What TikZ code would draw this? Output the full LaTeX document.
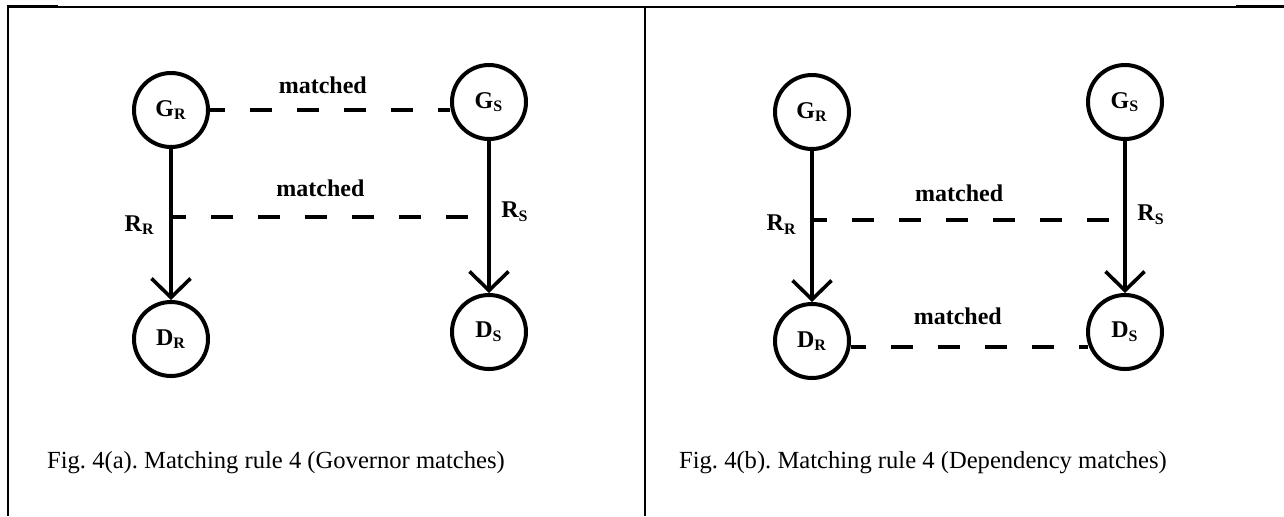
\documentclass[tikz,border=0pt]{standalone}
\usepackage{fontspec}
\setmainfont{Liberation Serif}
\usetikzlibrary{arrows.meta,positioning,calc}
\frenchspacing

\begin{document}
\begin{tikzpicture}[
  x=0.5pt, y=-0.5pt,
  >={Straight Barb[length=9.5pt,width=19.5pt]},
  every node/.style={font=\fontsize{12}{14}\selectfont\bfseries},
  word/.style={draw, circle, line width=2pt, minimum size=37pt, inner sep=0pt},
  rel/.style={->, line width=1.8pt},
  match/.style={line width=2pt, dash pattern=on 11pt off 12.5pt, dash phase=3.5pt},
  tag/.style={inner sep=0pt},
  frame/.style={line width=1pt},
  caption/.style={font=\fontsize{12.3}{15}\selectfont, inner sep=0pt},
]
\useasboundingbox (0,0) rectangle (1284,516);

% table rules
\draw[frame] (8,6.5) -- (1284,6.5);
\draw[line width=1.5pt] (7,6.5) -- (58,6.5);
\draw[line width=1.5pt] (1236,6.5) -- (1284,6.5);
\draw[frame] (8,6) -- (8,516);
\draw[frame] (645,6) -- (645,516);

% (a) governor matches
\node[word] (gra) at (171,110) {G\textsubscript{R}};
\node[word, below=75.5pt of gra] (dra) {D\textsubscript{R}};
\node[word, right=120pt of gra, yshift=4pt] (gsa) {G\textsubscript{S}};
\node[word, below=76pt of gsa] (dsa) {D\textsubscript{S}};

\draw[rel] (gra) -- coordinate[pos=0.45] (rra) (dra);
\draw[rel] (gsa) -- (dsa);
\draw[match] (gra) -- node[tag, above=7pt, pos=0.47] (ma1) {matched} (gra -| gsa.west);
\draw[match] (rra) -- node[tag, above=9pt, pos=0.47] (ma2) {matched} (rra -| gsa);
\node[tag, anchor=north east] (rlra) at ([xshift=-8pt, yshift=1pt]rra) {R\textsubscript{R}};
\node[tag, anchor=west] (rlsa) at ([xshift=6pt, yshift=2.75pt]rra -| gsa) {R\textsubscript{S}};

\node[caption] (capa) at (276,463) {Fig. 4(a). Matching rule 4 (Governor matches)};

% (b) dependency matches
\node[word] (grb) at (812,112) {G\textsubscript{R}};
\node[word, below=75.5pt of grb] (drb) {D\textsubscript{R}};
\node[word, right=117.5pt of grb, yshift=5pt] (gsb) {G\textsubscript{S}};
\node[word, below=76pt of gsb] (dsb) {D\textsubscript{S}};

\draw[rel] (grb) -- coordinate[pos=0.46] (rrb) (drb);
\draw[rel] (gsb) -- (dsb);
\draw[match] (rrb) -- node[tag, above=8.5pt, pos=0.47] (mb1) {matched} (rrb -| gsb);
\draw[match] ([yshift=-3pt]drb.east) -- node[tag, above=10pt, pos=0.45] (mb2) {matched}
  ([yshift=-3pt]drb.east -| dsb.200);
\node[tag, anchor=north east] (rlrb) at ([xshift=-7.5pt, yshift=3pt]rrb) {R\textsubscript{R}};
\node[tag, anchor=west] (rlsb) at ([xshift=6pt, yshift=2.75pt]rrb -| gsb) {R\textsubscript{S}};

\node[caption] (capb) at (923,463) {Fig. 4(b). Matching rule 4 (Dependency matches)};
\end{tikzpicture}
\end{document}
